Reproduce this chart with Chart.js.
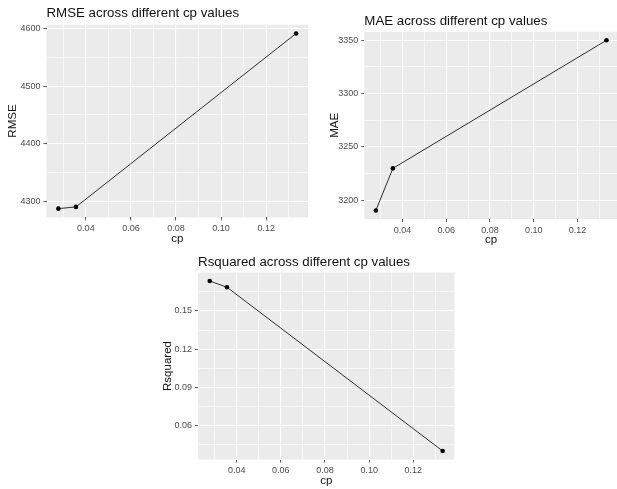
<!DOCTYPE html>
<html><head><meta charset="utf-8">
<script src="https://cdn.jsdelivr.net/npm/chart.js@4/dist/chart.umd.min.js"></script>
<style>
html,body{margin:0;padding:0;background:#fff;overflow:hidden;width:617px;height:489px;position:relative}
canvas{position:absolute;display:block}
</style></head><body>
<canvas id="c1" width="312" height="250" style="left:0px;top:0px"></canvas>
<canvas id="c2" width="302" height="250" style="left:320px;top:0px"></canvas>
<canvas id="c3" width="310" height="244" style="left:150px;top:245px"></canvas>
<script>
// ---- data ----
const cpValues = [0.0278, 0.0356, 0.1333];
const rmseValues = [4288, 4291, 4591];
const maeValues = [3190.5, 3230, 3350];
const rsquaredValues = [0.1736, 0.1687, 0.0398];
const cpTicks = [0.04, 0.06, 0.08, 0.10, 0.12];
const rmseTicks = [4300, 4400, 4500, 4600];
const maeTicks = [3200, 3250, 3300, 3350];
const rsquaredTicks = [0.06, 0.09, 0.12, 0.15];

Chart.defaults.font.family = '"Liberation Sans", Arial, sans-serif';

function expanded(vals) {
  const lo = Math.min(...vals), hi = Math.max(...vals), d = (hi - lo) * 0.05;
  return {min: lo - d, max: hi + d};
}
function tickSet(major, r) {
  const step = major[1] - major[0];
  const out = major.map(v => ({value: v, minor: false}));
  for (let i = -1; i < major.length; i++) {
    const m = major[0] + (i + 0.5) * step;
    if (m >= r.min && m <= r.max) out.push({value: m, minor: true});
  }
  return out.sort((a, b) => a.value - b.value);
}

const panelBg = {
  id: 'panelBg',
  beforeDraw(chart) {
    const {ctx, chartArea: a} = chart;
    ctx.save();
    ctx.fillStyle = '#EBEBEB';
    ctx.fillRect(a.left, a.top, a.right - a.left, a.bottom - a.top);
    ctx.restore();
  }
};
const leftTitle = {
  id: 'leftTitle',
  afterDraw(chart, args, opts) {
    const ctx = chart.ctx;
    ctx.save();
    ctx.font = '13.3px "Liberation Sans", Arial, sans-serif';
    ctx.fillStyle = '#111';
    ctx.textAlign = 'left';
    ctx.textBaseline = 'alphabetic';
    ctx.fillText(opts.text, chart.chartArea.left, opts.baseline);
    ctx.restore();
  }
};

const gridOpts = {
  color: '#FFFFFF',
  lineWidth: c => (c.tick && c.tick.minor) ? 0.55 : 1.1,
  drawTicks: true,
  tickLength: 3,
  tickWidth: 1,
  tickColor: c => (c.tick && c.tick.minor) ? 'rgba(0,0,0,0)' : '#555'
};

function makePanel(id, p) {
  const xr = expanded(cpValues);
  const yr = expanded(p.values);
  const xt = tickSet(cpTicks, xr);
  const yt = tickSet(p.ticks, yr);
  new Chart(document.getElementById(id), {
    type: 'scatter',
    data: {
      datasets: [{
        data: cpValues.map((x, i) => ({x: x, y: p.values[i]})),
        showLine: true,
        borderColor: '#1a1a1a',
        borderWidth: 0.9,
        pointRadius: 2.3,
        pointBackgroundColor: '#000',
        pointBorderWidth: 0,
        tension: 0
      }]
    },
    options: {
      responsive: false,
      animation: false,
      devicePixelRatio: 1,
      layout: {padding: p.pad},
      plugins: {
        legend: {display: false},
        tooltip: {enabled: false},
        leftTitle: {text: p.title, baseline: p.titleBaseline}
      },
      scales: {
        x: {
          type: 'linear', min: xr.min, max: xr.max,
          afterBuildTicks: s => { s.ticks = xt.map(t => ({value: t.value, minor: t.minor})); },
          afterFit: s => { s.height = p.xHeight; },
          ticks: {
            autoSkip: false, maxRotation: 0, padding: 3, color: '#4D4D4D', font: {size: 9},
            callback: (v, i, ts) => ts[i].minor ? '' : Number(v).toFixed(2)
          },
          grid: gridOpts,
          border: {display: false},
          title: {display: true, text: 'cp', color: '#111', font: {size: 11.5}, padding: {top: 0, bottom: 0}}
        },
        y: {
          type: 'linear', min: yr.min, max: yr.max,
          afterBuildTicks: s => { s.ticks = yt.map(t => ({value: t.value, minor: t.minor})); },
          afterFit: s => { s.width = p.yWidth; },
          ticks: {
            autoSkip: false, padding: 3, color: '#4D4D4D', font: {size: 9},
            callback: (v, i, ts) => ts[i].minor ? '' : Number(v).toFixed(p.decimals)
          },
          grid: gridOpts,
          border: {display: false},
          title: {display: true, text: p.yTitle, color: '#111', font: {size: 11.5}, padding: {top: p.yTitlePad, bottom: 0}}
        }
      }
    },
    plugins: [panelBg, leftTitle]
  });
}

makePanel('c1', {
  values: rmseValues, ticks: rmseTicks, decimals: 0,
  title: 'RMSE across different cp values', yTitle: 'RMSE',
  pad: {left: 0, top: 24.7, right: 3, bottom: 4.4},
  yWidth: 46.5, xHeight: 28.2, yTitlePad: 6.0, titleBaseline: 17
});
makePanel('c2', {
  values: maeValues, ticks: maeTicks, decimals: 0,
  title: 'MAE across different cp values', yTitle: 'MAE',
  pad: {left: 0, top: 31.8, right: 2.9, bottom: 3.4},
  yWidth: 44.3, xHeight: 27.6, yTitlePad: 7.6, titleBaseline: 24.5
});
makePanel('c3', {
  values: rsquaredValues, ticks: rsquaredTicks, decimals: 2,
  title: 'Rsquared across different cp values', yTitle: 'Rsquared',
  pad: {left: 0, top: 27.5, right: 5.7, bottom: 0.9},
  yWidth: 48.1, xHeight: 28.6, yTitlePad: 11.2, titleBaseline: 21
});
</script>
</body></html>
